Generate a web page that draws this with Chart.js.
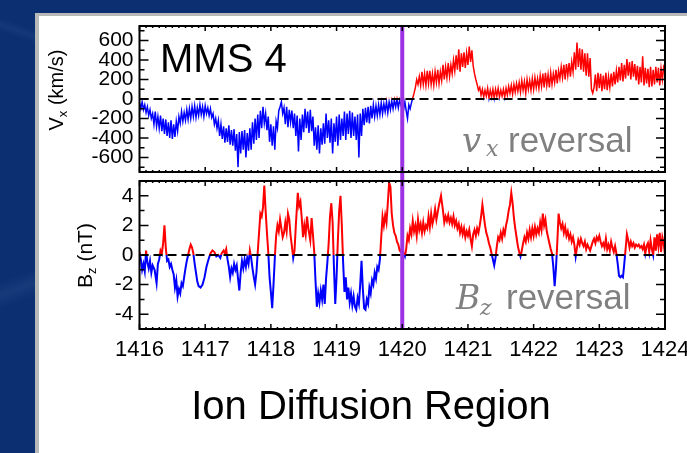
<!DOCTYPE html>
<html>
<head>
<meta charset="utf-8">
<script src="https://cdn.jsdelivr.net/npm/chart.js@4"></script>
<style>
  html, body { margin:0; padding:0; width:687px; height:453px; overflow:hidden; background:#0b2f70; }
  #bg { position:absolute; left:0; top:0; width:687px; height:453px;
        background: linear-gradient(160deg, rgba(255,255,255,0) 40%, rgba(120,160,220,0.10) 42%, rgba(255,255,255,0) 44%),
                    linear-gradient(20deg, rgba(255,255,255,0) 60%, rgba(120,160,220,0.08) 61%, rgba(255,255,255,0) 62%),
                    #0b2f70; }
  #panel { position:absolute; left:35px; top:13px; width:720px; height:480px; background:#fff;
           border-left:4px solid #b9b9b9; border-top:3px solid #b9b9b9; box-sizing:border-box; }
  canvas { position:absolute; left:0; top:0; }
  .t { position:absolute; white-space:nowrap; font-family:"Liberation Sans", Arial, Helvetica, sans-serif; }
  .m { position:absolute; white-space:nowrap; font-family:"DejaVu Serif", serif; font-style:italic; color:#808080; }
</style>
</head>
<body>
<div id="bg"></div>
<div id="panel"></div>
<canvas id="c1" width="720" height="453"></canvas>
<canvas id="c2" width="720" height="453"></canvas>

<div class="t" style="left:160px; top:38px; font-size:40px; line-height:40px; color:#000;">MMS 4</div>

<div class="m" style="left:462px; top:123px; font-size:34px; line-height:34px;">v</div>
<div class="m" style="left:486px; top:138px; font-size:22px; line-height:22px;">x</div>
<div class="t" style="left:508px; top:122px; font-size:35px; line-height:35px; color:#808080;">reversal</div>

<div class="m" style="left:456px; top:281px; font-size:33px; line-height:33px;">B</div>
<div class="m" style="left:480px; top:297px; font-size:22px; line-height:22px;">z</div>
<div class="t" style="left:506px; top:279px; font-size:35px; line-height:35px; color:#808080;">reversal</div>

<div class="t" style="left:-4px; top:80px; width:120px; height:20px; font-size:20px; line-height:20px; text-align:center; transform:rotate(-90deg); color:#000;">V<span style="font-size:13px; position:relative; top:4px;">x</span> (km/s)</div>
<div class="t" style="left:24px; top:245px; width:120px; height:21px; font-size:21px; line-height:21px; text-align:center; transform:rotate(-90deg); color:#000;">B<span style="font-size:13px; position:relative; top:4px;">z</span> (nT)</div>

<div class="t" style="left:71px; top:385px; width:600px; font-size:40px; line-height:40px; text-align:center; color:#000;">Ion Diffusion Region</div>

<script>
// ---------------- DATA ----------------
const reversalTime = 1420.0;
const timeTicks = [1416, 1417, 1418, 1419, 1420, 1421, 1422, 1423, 1424];
const vxTickValues = [-600, -400, -200, 0, 200, 400, 600];
const bzTickValues = [-4, -2, 0, 2, 4];

const vxTimes = [
 1416.00,1416.02,1416.04,1416.06,1416.08,1416.10,1416.12,1416.14,1416.16,1416.18,
 1416.20,1416.22,1416.24,1416.26,1416.28,1416.30,1416.32,1416.34,1416.36,1416.38,
 1416.40,1416.42,1416.44,1416.46,1416.48,1416.50,1416.52,1416.54,1416.56,1416.58,
 1416.60,1416.62,1416.64,1416.66,1416.68,1416.70,1416.72,1416.74,1416.76,1416.78,
 1416.80,1416.82,1416.84,1416.86,1416.88,1416.90,1416.92,1416.94,1416.96,1416.98,
 1417.00,1417.02,1417.04,1417.06,1417.08,1417.10,1417.12,1417.14,1417.16,1417.18,
 1417.20,1417.22,1417.24,1417.26,1417.28,1417.30,1417.32,1417.34,1417.36,1417.38,
 1417.40,1417.42,1417.44,1417.46,1417.48,1417.50,1417.52,1417.54,1417.56,1417.58,
 1417.60,1417.62,1417.64,1417.66,1417.68,1417.70,1417.72,1417.74,1417.76,1417.78,
 1417.80,1417.82,1417.84,1417.86,1417.88,1417.90,1417.92,1417.94,1417.96,1417.98,
 1418.00,1418.02,1418.04,1418.06,1418.08,1418.10,1418.12,1418.14,1418.16,1418.18,
 1418.20,1418.22,1418.24,1418.26,1418.28,1418.30,1418.32,1418.34,1418.36,1418.38,
 1418.40,1418.42,1418.44,1418.46,1418.48,1418.50,1418.52,1418.54,1418.56,1418.58,
 1418.60,1418.62,1418.64,1418.66,1418.68,1418.70,1418.72,1418.74,1418.76,1418.78,
 1418.80,1418.82,1418.84,1418.86,1418.88,1418.90,1418.92,1418.94,1418.96,1418.98,
 1419.00,1419.02,1419.04,1419.06,1419.08,1419.10,1419.12,1419.14,1419.16,1419.18,
 1419.20,1419.22,1419.24,1419.26,1419.28,1419.30,1419.32,1419.34,1419.36,1419.38,
 1419.40,1419.42,1419.44,1419.46,1419.48,1419.50,1419.52,1419.54,1419.56,1419.58,
 1419.60,1419.62,1419.64,1419.66,1419.68,1419.70,1419.72,1419.74,1419.76,1419.78,
 1419.80,1419.82,1419.84,1419.86,1419.88,1419.90,1419.92,1419.94,1419.96,1419.98,
 1420.00,1420.02,1420.04,1420.06,1420.08,1420.10,1420.12,1420.14,1420.16,1420.18,
 1420.20,1420.22,1420.24,1420.26,1420.28,1420.30,1420.32,1420.34,1420.36,1420.38,
 1420.40,1420.42,1420.44,1420.46,1420.48,1420.50,1420.52,1420.54,1420.56,1420.58,
 1420.60,1420.62,1420.64,1420.66,1420.68,1420.70,1420.72,1420.74,1420.76,1420.78,
 1420.80,1420.82,1420.84,1420.86,1420.88,1420.90,1420.92,1420.94,1420.96,1420.98,
 1421.00,1421.02,1421.04,1421.06,1421.08,1421.10,1421.12,1421.14,1421.16,1421.18,
 1421.20,1421.22,1421.24,1421.26,1421.28,1421.30,1421.32,1421.34,1421.36,1421.38,
 1421.40,1421.42,1421.44,1421.46,1421.48,1421.50,1421.52,1421.54,1421.56,1421.58,
 1421.60,1421.62,1421.64,1421.66,1421.68,1421.70,1421.72,1421.74,1421.76,1421.78,
 1421.80,1421.82,1421.84,1421.86,1421.88,1421.90,1421.92,1421.94,1421.96,1421.98,
 1422.00,1422.02,1422.04,1422.06,1422.08,1422.10,1422.12,1422.14,1422.16,1422.18,
 1422.20,1422.22,1422.24,1422.26,1422.28,1422.30,1422.32,1422.34,1422.36,1422.38,
 1422.40,1422.42,1422.44,1422.46,1422.48,1422.50,1422.52,1422.54,1422.56,1422.58,
 1422.60,1422.62,1422.64,1422.66,1422.68,1422.70,1422.72,1422.74,1422.76,1422.78,
 1422.80,1422.82,1422.84,1422.86,1422.88,1422.90,1422.92,1422.94,1422.96,1422.98,
 1423.00,1423.02,1423.04,1423.06,1423.08,1423.10,1423.12,1423.14,1423.16,1423.18,
 1423.20,1423.22,1423.24,1423.26,1423.28,1423.30,1423.32,1423.34,1423.36,1423.38,
 1423.40,1423.42,1423.44,1423.46,1423.48,1423.50,1423.52,1423.54,1423.56,1423.58,
 1423.60,1423.62,1423.64,1423.66,1423.68,1423.70,1423.72,1423.74,1423.76,1423.78,
 1423.80,1423.82,1423.84,1423.86,1423.88,1423.90,1423.92,1423.94,1423.96,1423.98,
 1424.00
];
const vxValues = [
 -40,-100,-30,-110,-60,-140,-80,-170,-110,-200,
 -150,-260,-130,-280,-180,-300,-170,-330,-200,-360,
 -210,-380,-240,-400,-220,-410,-260,-390,-230,-330,
 -180,-250,-130,-230,-140,-220,-110,-210,-100,-200,
 -80,-180,-70,-190,-90,-170,-60,-160,-80,-180,
 -70,-150,-90,-170,-100,-190,-150,-260,-200,-300,
 -220,-380,-260,-410,-280,-450,-300,-440,-270,-470,
 -320,-480,-310,-530,-360,-700,-340,-560,-330,-520,
 -320,-600,-350,-530,-300,-520,-240,-460,-200,-420,
 -160,-400,-120,-300,-80,-250,-150,-320,-180,-440,
 -260,-480,-280,-520,-230,-300,-120,-80,-30,-150,
 -90,-260,-80,-290,-110,-240,-120,-300,-150,-380,
 -170,-540,-200,-420,-160,-340,-100,-300,-130,-350,
 -110,-330,-180,-480,-290,-520,-270,-560,-300,-470,
 -250,-460,-150,-400,-220,-450,-200,-560,-250,-440,
 -180,-480,-160,-420,-200,-380,-130,-420,-150,-360,
 -120,-400,-140,-380,-180,-420,-160,-600,-150,-380,
 -100,-270,-90,-240,-80,-250,-70,-200,-60,-180,
 -70,-170,-60,-160,-40,-150,-50,-130,-30,-140,
 -30,-110,-20,-100,-10,-80,-5,-90,-10,-60,
 -20,-110,-30,-120,-200,-60,-100,-40,10,60,
 120,200,150,230,140,280,150,260,140,290,
 160,290,150,260,140,280,170,300,160,280,
 190,350,200,330,220,370,230,350,260,400,
 290,450,300,510,280,470,330,480,320,470,
 350,540,380,500,340,260,200,150,90,120,
 40,100,20,90,30,110,10,90,20,100,
 10,100,30,110,20,90,30,100,20,110,
 40,130,60,140,50,150,70,160,80,170,
 70,190,90,180,60,200,100,190,90,210,
 100,220,120,210,110,240,130,260,120,270,
 140,250,120,270,150,260,170,300,160,290,
 210,330,220,350,200,360,240,370,230,380,
 280,480,300,580,330,520,300,510,280,470,
 240,470,230,420,100,60,120,250,80,270,
 110,260,80,240,100,270,90,230,120,260,
 130,280,150,290,170,330,190,370,180,350,
 210,410,240,380,200,390,230,360,190,340,
 150,330,170,440,140,320,160,310,120,330,
 130,300,150,330,170,320,140,310,200,330,
 300
];

const bzTimes = [
 1416.00,1416.02,1416.04,1416.06,1416.08,1416.10,1416.12,1416.14,1416.16,1416.18,
 1416.20,1416.23,1416.26,1416.28,1416.30,1416.32,1416.34,1416.36,1416.38,1416.40,
 1416.42,1416.44,1416.46,1416.48,1416.50,1416.52,1416.54,1416.56,1416.58,1416.60,
 1416.62,1416.64,1416.66,1416.68,1416.70,1416.72,1416.74,1416.76,1416.78,1416.80,
 1416.82,1416.84,1416.86,1416.88,1416.90,1416.93,1416.96,1416.99,1417.02,1417.05,
 1417.08,1417.11,1417.14,1417.17,1417.20,1417.23,1417.25,1417.28,1417.30,1417.32,
 1417.34,1417.36,1417.38,1417.40,1417.42,1417.44,1417.46,1417.48,1417.50,1417.52,
 1417.54,1417.56,1417.58,1417.60,1417.62,1417.64,1417.66,1417.68,1417.70,1417.72,
 1417.74,1417.76,1417.78,1417.80,1417.82,1417.84,1417.86,1417.88,1417.90,1417.92,
 1417.94,1417.96,1417.98,1418.00,1418.02,1418.04,1418.06,1418.08,1418.10,1418.12,
 1418.14,1418.16,1418.18,1418.20,1418.22,1418.24,1418.26,1418.28,1418.30,1418.32,
 1418.34,1418.36,1418.38,1418.41,1418.43,1418.45,1418.47,1418.49,1418.51,1418.53,
 1418.55,1418.57,1418.60,1418.62,1418.64,1418.66,1418.68,1418.70,1418.72,1418.74,
 1418.76,1418.78,1418.80,1418.82,1418.84,1418.86,1418.88,1418.90,1418.92,1418.94,
 1418.96,1418.98,1419.00,1419.02,1419.04,1419.06,1419.08,1419.10,1419.12,1419.14,
 1419.16,1419.18,1419.20,1419.22,1419.24,1419.26,1419.28,1419.30,1419.32,1419.34,
 1419.36,1419.38,1419.40,1419.42,1419.44,1419.46,1419.48,1419.50,1419.52,1419.54,
 1419.56,1419.58,1419.60,1419.62,1419.64,1419.66,1419.68,1419.70,1419.72,1419.74,
 1419.76,1419.78,1419.80,1419.82,1419.84,1419.86,1419.88,1419.90,1419.92,1419.94,
 1419.96,1419.98,1420.00,1420.02,1420.04,1420.06,1420.08,1420.10,1420.12,1420.14,
 1420.16,1420.18,1420.20,1420.22,1420.24,1420.26,1420.28,1420.30,1420.32,1420.34,
 1420.36,1420.38,1420.40,1420.42,1420.44,1420.46,1420.48,1420.50,1420.52,1420.54,
 1420.56,1420.59,1420.62,1420.64,1420.66,1420.68,1420.70,1420.72,1420.74,1420.76,
 1420.78,1420.80,1420.82,1420.84,1420.86,1420.88,1420.90,1420.92,1420.94,1420.96,
 1420.98,1421.00,1421.02,1421.04,1421.06,1421.08,1421.10,1421.12,1421.14,1421.16,
 1421.18,1421.20,1421.22,1421.24,1421.26,1421.28,1421.30,1421.32,1421.34,1421.36,
 1421.38,1421.40,1421.42,1421.44,1421.46,1421.48,1421.50,1421.52,1421.54,1421.56,
 1421.58,1421.60,1421.62,1421.64,1421.66,1421.68,1421.70,1421.72,1421.74,1421.76,
 1421.78,1421.80,1421.82,1421.84,1421.86,1421.88,1421.90,1421.92,1421.94,1421.96,
 1421.98,1422.00,1422.02,1422.04,1422.06,1422.08,1422.10,1422.12,1422.14,1422.16,
 1422.18,1422.20,1422.22,1422.24,1422.26,1422.28,1422.30,1422.32,1422.34,1422.36,
 1422.38,1422.40,1422.42,1422.44,1422.46,1422.48,1422.50,1422.52,1422.54,1422.56,
 1422.58,1422.60,1422.62,1422.64,1422.66,1422.68,1422.70,1422.72,1422.74,1422.76,
 1422.78,1422.80,1422.82,1422.84,1422.86,1422.88,1422.90,1422.92,1422.94,1422.96,
 1422.98,1423.00,1423.02,1423.04,1423.06,1423.08,1423.10,1423.12,1423.14,1423.16,
 1423.18,1423.20,1423.22,1423.24,1423.26,1423.28,1423.30,1423.32,1423.34,1423.36,
 1423.38,1423.40,1423.42,1423.44,1423.46,1423.48,1423.50,1423.52,1423.54,1423.56,
 1423.58,1423.60,1423.62,1423.64,1423.66,1423.68,1423.70,1423.72,1423.74,1423.76,
 1423.78,1423.80,1423.82,1423.84,1423.86,1423.88,1423.90,1423.92,1423.94,1423.96,
 1423.98,1424.00
];
const bzValues = [
 0.2,-0.3,-1.0,-0.6,-1.1,0.3,-0.5,-0.9,-0.4,-1.2,
 -0.7,-1.0,-1.9,-0.6,-0.3,0.3,0.1,0.8,2.0,0.5,
 -0.4,-0.3,-0.8,-0.6,-1.0,-1.3,-2.2,-1.7,-2.8,-2.3,
 -2.6,-1.9,-2.1,-1.5,-0.9,-0.4,0.0,0.4,0.7,0.5,
 0.1,-0.6,-1.2,-1.8,-2.1,-2.2,-2.0,-1.5,-0.8,-0.3,
 0.1,0.3,0.2,-0.1,0.0,-0.2,0.1,0.3,0.1,0.4,
 -0.3,-0.8,-1.5,-0.9,-1.2,-0.6,-1.0,-0.7,-1.6,-2.4,
 -1.2,-0.4,-0.9,-0.3,-0.8,-0.2,-0.6,0.3,-0.2,-0.9,
 -1.5,-2.0,-1.2,0.2,1.5,2.8,2.6,3.2,4.7,3.0,
 1.5,0.2,-1.5,-2.5,-3.6,-2.0,-0.2,1.3,2.0,1.6,
 2.4,1.8,1.2,1.5,2.2,1.6,2.8,2.4,1.3,0.6,
 -0.2,0.3,2.0,4.2,3.3,3.6,2.5,1.2,2.0,1.4,
 2.6,1.8,1.0,2.5,1.4,0.2,-1.8,-3.5,-2.6,-3.2,
 -2.4,-3.0,-2.0,-3.3,-1.6,-0.5,0.8,2.6,3.5,2.2,
 -0.8,-3.3,-1.5,1.0,3.0,4.0,2.0,-0.5,-2.5,-1.5,
 -3.0,-2.2,-3.2,-2.6,-3.4,-2.8,-3.5,-3.7,-2.9,-3.3,
 -2.0,-0.4,-2.3,-3.6,-3.7,-3.0,-3.3,-2.2,-2.6,-1.7,
 -2.0,-1.2,-1.6,-0.8,-1.0,-0.3,1.2,2.6,2.0,2.7,
 2.2,3.5,4.9,4.6,2.8,2.0,1.5,1.3,0.9,0.7,
 0.3,0.2,0.6,0.1,-0.1,0.4,1.3,1.0,1.8,1.4,
 2.3,1.6,2.0,1.3,2.4,1.7,2.1,1.5,2.2,1.6,
 2.0,1.8,2.6,1.9,2.8,2.1,2.5,3.1,2.4,2.9,
 3.4,4.0,3.0,2.2,2.6,2.3,2.7,2.2,2.5,2.1,
 2.6,2.0,2.3,1.8,2.1,1.5,1.9,1.4,1.8,1.2,
 1.6,1.3,1.7,1.1,0.6,1.4,1.7,1.3,1.8,1.5,
 2.0,2.6,3.4,2.7,2.0,1.5,1.2,0.8,0.5,0.1,
 -0.3,-0.7,-0.2,0.6,1.2,1.0,1.5,1.1,1.7,1.4,
 2.0,2.4,3.0,3.4,4.2,3.5,2.5,1.8,1.2,0.6,
 0.2,-0.1,0.3,0.8,1.2,0.9,1.5,1.1,1.7,1.2,
 1.8,1.3,1.9,1.4,1.8,1.5,2.2,1.7,2.8,2.0,
 2.4,1.6,1.2,0.8,0.4,0.1,-0.8,-2.1,-0.9,0.8,
 2.8,2.2,1.8,2.1,1.5,1.9,1.3,1.6,1.1,1.4,
 0.9,1.2,0.7,-0.1,0.5,1.0,0.7,1.1,0.8,0.6,
 0.9,0.4,0.7,0.5,0.3,0.6,0.9,1.1,0.8,1.2,
 1.0,1.3,0.9,0.6,0.8,0.5,1.1,0.4,0.7,0.3,
 0.9,0.5,0.2,0.6,0.1,-0.6,-1.4,-1.5,-1.4,-1.5,
 -0.6,0.4,1.4,1.0,0.5,0.9,0.6,0.8,0.5,0.7,
 0.6,0.7,0.5,0.6,0.4,0.7,0.1,0.6,0.8,0.2,
 1.0,0.4,0.0,1.2,0.3,1.4,0.6,1.5,0.2,1.2,
 0.8,0.0
];

// ---------------- STYLE / LAYOUT ----------------
const CW = 720, CH = 453;
const plotLeft = 139.5, plotRight = 665;
const RED = '#ff0000', BLUE = '#0000ff', PURPLE = '#9b32e4';
const tickFont = { family: '"Liberation Sans", Arial, Helvetica, sans-serif', size: 21 };

function toPoints(ts, vs) { return ts.map((t, i) => ({ x: t, y: vs[i] })); }

// clip a dataset to one side of the zero line (colours by sign)
const signClip = {
  id: 'signClip',
  beforeDatasetDraw(chart, args) {
    const ds = chart.data.datasets[args.index];
    if (!ds.sign) return;
    const { ctx, chartArea: a } = chart;
    const y0 = chart.scales.y.getPixelForValue(0);
    ctx.save();
    ctx.beginPath();
    if (ds.sign > 0) ctx.rect(a.left - 2, a.top - 4, a.width + 4, y0 - a.top + 4);
    else ctx.rect(a.left - 2, y0, a.width + 4, a.bottom + 4 - y0);
    ctx.clip();
  },
  afterDatasetDraw(chart, args) {
    if (chart.data.datasets[args.index].sign) chart.ctx.restore();
  }
};

const frameTicks = {
  id: 'frameTicks',
  afterDatasetsDraw(chart, args, o) {
    const { ctx, chartArea: a, scales: { x, y } } = chart;
    ctx.save();
    // zero dashed line
    const y0 = y.getPixelForValue(0);
    ctx.strokeStyle = '#000';
    ctx.lineWidth = 2;
    ctx.setLineDash([9, 5]);
    ctx.beginPath(); ctx.moveTo(a.left, y0); ctx.lineTo(a.right, y0); ctx.stroke();
    ctx.setLineDash([]);
    // reversal line
    const xp = x.getPixelForValue(reversalTime);
    ctx.strokeStyle = PURPLE; ctx.lineWidth = 4;
    ctx.beginPath(); ctx.moveTo(xp, a.top); ctx.lineTo(xp, a.bottom + (o.extendBottom || 0)); ctx.stroke();
    // ticks
    ctx.strokeStyle = '#000'; ctx.lineWidth = 1.5;
    ctx.beginPath();
    const n = Math.round((y.max - y.min) / o.yMinorStep);
    for (let k = 0; k <= n; k++) {
      const v = Math.ceil(y.min / o.yMinorStep) * o.yMinorStep + k * o.yMinorStep;
      if (v > y.max) break;
      const py = y.getPixelForValue(v);
      const L = o.yMajor.includes(v) ? 9 : 5;
      ctx.moveTo(a.left, py); ctx.lineTo(a.left + L, py);
      ctx.moveTo(a.right, py); ctx.lineTo(a.right - L, py);
    }
    for (let k = 0; k <= 80; k++) {
      const t = x.min + k * 0.1;
      const px = x.getPixelForValue(t);
      const L = (k % 10 === 0) ? 5 : 2;
      ctx.moveTo(px, a.top); ctx.lineTo(px, a.top + L);
      ctx.moveTo(px, a.bottom); ctx.lineTo(px, a.bottom - L);
    }
    ctx.stroke();
    // frame
    ctx.lineWidth = 2;
    ctx.strokeRect(a.left, a.top, a.width, a.height);
    ctx.restore();
  }
};

function makeChart(id, opt) {
  const pts = toPoints(opt.times, opt.values);
  return new Chart(document.getElementById(id), {
    type: 'line',
    data: {
      datasets: [
        { data: pts, sign: 1, borderColor: RED, borderWidth: opt.lw, pointRadius: 0, tension: 0, fill: false },
        { data: pts, sign: -1, borderColor: BLUE, borderWidth: opt.lw, pointRadius: 0, tension: 0, fill: false }
      ]
    },
    options: {
      responsive: false, animation: false, devicePixelRatio: 1,
      layout: { padding: opt.padding },
      scales: {
        x: {
          type: 'linear', min: timeTicks[0], max: timeTicks[timeTicks.length - 1],
          display: opt.showX,
          afterBuildTicks: s => { s.ticks = timeTicks.map(v => ({ value: v })); },
          afterFit: s => { s.height = opt.showX ? 40 : 0; },
          ticks: { autoSkip: false, maxRotation: 0, padding: 8, color: '#000',
                   font: { family: tickFont.family, size: 22 }, callback: v => String(v) },
          grid: { display: false, drawTicks: false },
          border: { display: false }
        },
        y: {
          min: opt.yMin, max: opt.yMax,
          afterFit: s => { s.width = plotLeft; },
          afterBuildTicks: s => { s.ticks = opt.yTicks.map(v => ({ value: v })); },
          ticks: { autoSkip: false, padding: 6, color: '#000', font: tickFont, callback: v => String(v) },
          grid: { display: false, drawTicks: false },
          border: { display: false }
        }
      },
      plugins: {
        legend: { display: false },
        tooltip: { enabled: false },
        frameTicks: { yMinorStep: opt.yMinorStep, yMajor: opt.yTicks, extendBottom: opt.extendBottom }
      }
    },
    plugins: [signClip, frameTicks]
  });
}

makeChart('c1', {
  times: vxTimes, values: vxValues, lw: 1.5,
  yMin: -750, yMax: 750, yTicks: vxTickValues, yMinorStep: 100,
  showX: false, extendBottom: 9,
  padding: { left: 0, top: 26, right: CW - plotRight, bottom: CH - 172 }
});
makeChart('c2', {
  times: bzTimes, values: bzValues, lw: 2,
  yMin: -5, yMax: 5, yTicks: bzTickValues, yMinorStep: 1,
  showX: true, extendBottom: 0,
  padding: { left: 0, top: 181, right: CW - plotRight, bottom: CH - 329 - 40 }
});
</script>
</body>
</html>
